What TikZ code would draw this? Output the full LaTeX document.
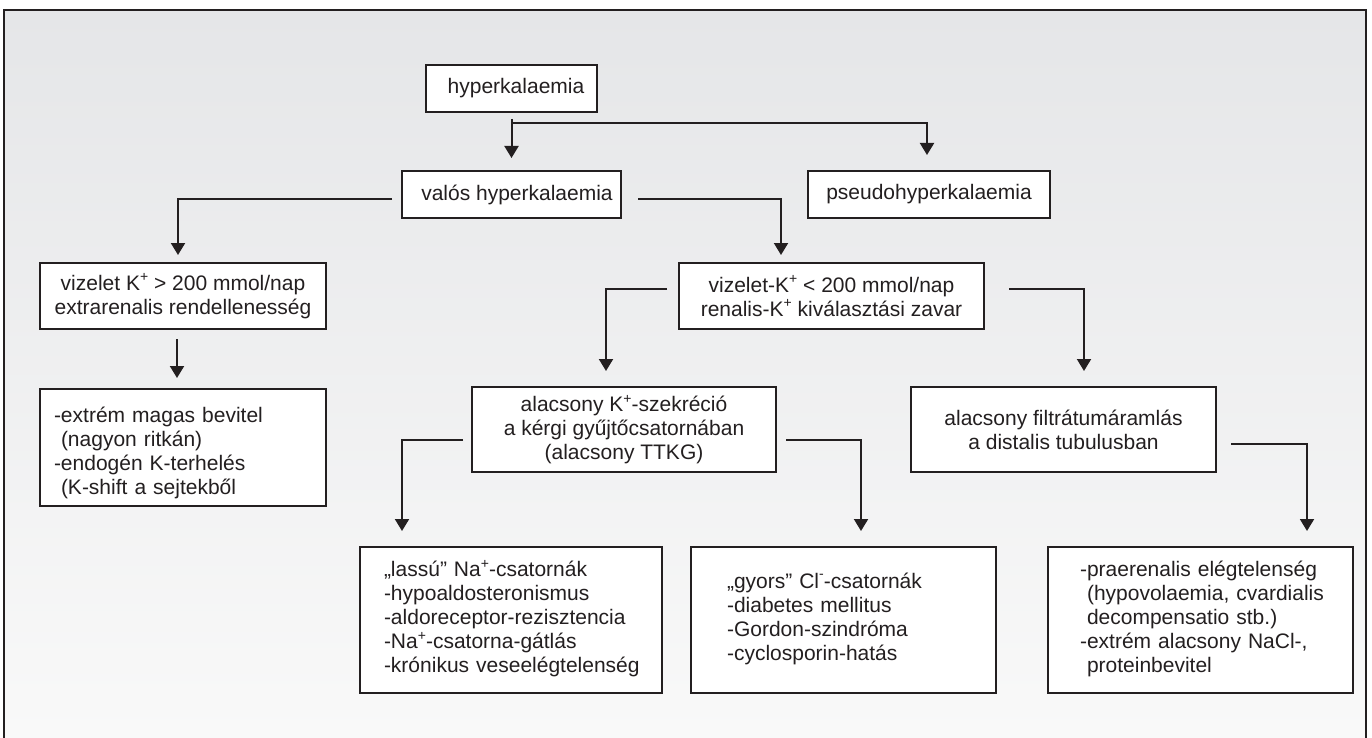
\documentclass[tikz,border=0pt]{standalone}
\usepackage{fontspec}
\setmainfont{Liberation Sans}
\usetikzlibrary{arrows.meta}
\definecolor{ink}{RGB}{35,31,32}
\definecolor{bgtop}{RGB}{229,230,232}
\definecolor{bgbot}{RGB}{249,249,249}
\newcommand\fsz{\fontsize{21}{24}\selectfont}
\newcommand\supplus{\raisebox{8.5pt}{\fontsize{14}{14}\selectfont +}}
\newcommand\supminus{\raisebox{10.5pt}{\fontsize{14}{14}\selectfont -}}
\begin{document}
\begin{tikzpicture}[x=1pt,y=-1pt,
  box/.style={draw=ink,line width=2pt,fill=white,inner sep=0pt,text=ink,font=\fsz},
  arr/.style={draw=ink,line width=2pt,-{Triangle[width=14pt,length=12pt]}},
  frame/.style={draw=ink,line width=1.6pt}]
\useasboundingbox (0,0) rectangle (1372,738);
\fill[white] (0,0) rectangle (1372,738);
\shade[top color=bgtop,bottom color=bgbot] (4,10) rectangle (1366,738);
\draw[frame] (4,742) -- (4,10) -- (1366,10) -- (1366,742);

\node[box,minimum width=171pt,minimum height=47pt] (hyp) at (511.5,88.5) {\hspace*{9pt}hyperkalaemia};
\node[box,minimum width=219pt,minimum height=47pt] (valos) at (511.5,194.5) {\hspace*{11pt}valós hyperkalaemia};
\node[box,minimum width=242pt,minimum height=47pt] (pseudo) at (929,194.5) {pseudohyperkalaemia};
\node[box,minimum width=286pt,minimum height=66pt,align=center] (viz1) at (183,296)
  {vizelet K\supplus{} > 200 mmol/nap\\extrarenalis rendellenesség};
\node[box,minimum width=305pt,minimum height=66pt,align=center] (viz2) at (831.5,296)
  {vizelet-K\supplus{} < 200 mmol/nap\\renalis-K\supplus{} kiválasztási zavar};
\node[box,minimum width=286pt,minimum height=117pt,text width=258pt,align=left] (extrem) at (183,447.5)
  {\begin{tabular}{@{}l@{}}\rule{0pt}{28.8pt}-extrém magas bevitel\\\ (nagyon ritkán)\\-endogén K-terhelés\\\ (K-shift a sejtekből\end{tabular}};
\node[box,minimum width=304pt,minimum height=85pt,align=center] (alac) at (624,429.5)
  {alacsony K\supplus-szekréció\\a kérgi gyűjtőcsatornában\\(alacsony TTKG)};
\node[box,minimum width=305pt,minimum height=85pt,align=center] (distal) at (1063.5,429.5)
  {alacsony filtrátumáramlás\\a distalis tubulusban};
\node[box,minimum width=302pt,minimum height=146pt,text width=254pt,align=left] (lassu) at (511,620)
  {\begin{tabular}{@{}l@{}}„lassú” Na\supplus-csatornák\\-hypoaldosteronismus\\-aldoreceptor-rezisztencia\\-Na\supplus-csatorna-gátlás\\-krónikus veseelégtelenség\end{tabular}};
\node[box,minimum width=305pt,minimum height=146pt,text width=233pt,align=left] (gyors) at (843.5,620)
  {\begin{tabular}{@{}l@{}}„gyors” Cl\supminus-csatornák\\-diabetes mellitus\\-Gordon-szindróma\\-cyclosporin-hatás\end{tabular}};
\node[box,minimum width=305pt,minimum height=146pt,text width=241pt,align=left] (prae) at (1200.5,620)
  {\begin{tabular}{@{}l@{}}-praerenalis elégtelenség\\\ (hypovolaemia, cvardialis\\\ decompensatio stb.)\\-extrém alacsony NaCl-,\\\ proteinbevitel\end{tabular}};

\draw[arr] ([yshift=-6pt]hyp.south) -- ([yshift=12pt]valos.north);
\draw[arr] ([yshift=-10pt]hyp.south) -| ([xshift=-2pt,yshift=15pt]pseudo.north);
\draw[arr] ([xshift=-9pt,yshift=-4.5pt]valos.west) -| ([xshift=-5pt,yshift=7pt]viz1.north);
\draw[arr] ([xshift=16pt,yshift=-4.5pt]valos.east) -| ([xshift=-50.5pt,yshift=7pt]viz2.north);
\draw[arr] ([xshift=-6pt,yshift=-9pt]viz1.south) -- ([xshift=-6pt,yshift=10pt]extrem.north);
\draw[arr] ([xshift=-11pt,yshift=7pt]viz2.west) -| ([xshift=-18pt,yshift=15pt]alac.north);
\draw[arr] ([xshift=24pt,yshift=7pt]viz2.east) -| ([xshift=20.5pt,yshift=15pt]distal.north);
\draw[arr] ([xshift=-8pt,yshift=-10.5pt]alac.west) -| ([xshift=-109pt,yshift=15pt]lassu.north);
\draw[arr] ([xshift=9pt,yshift=-10.5pt]alac.east) -| ([xshift=17.5pt,yshift=15pt]gyors.north);
\draw[arr] ([xshift=14pt,yshift=-14.5pt]distal.east) -| ([xshift=106.5pt,yshift=15pt]prae.north);
\end{tikzpicture}
\end{document}
